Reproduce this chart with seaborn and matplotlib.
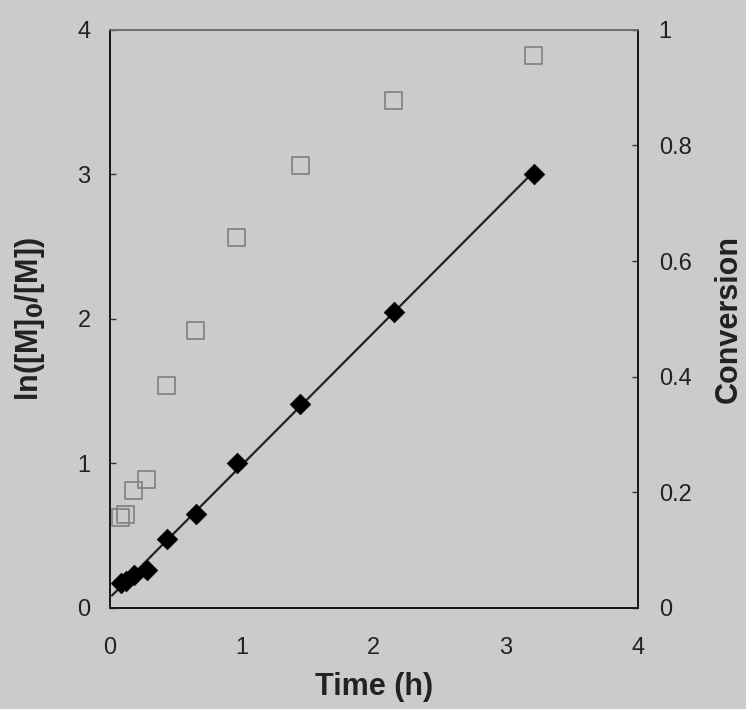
import numpy as np
import pandas as pd
import matplotlib
matplotlib.use("Agg")
import matplotlib.pyplot as plt
import seaborn as sns

# data
time_h = [0.08, 0.12, 0.18, 0.28, 0.43, 0.65, 0.96, 1.44, 2.15, 3.21]
ln_ratio = [0.17, 0.19, 0.23, 0.26, 0.48, 0.65, 1.00, 1.41, 2.05, 3.00]
conversion = [0.157, 0.162, 0.204, 0.223, 0.384, 0.48, 0.641, 0.766, 0.878, 0.956]

x_ticks = [0, 1, 2, 3, 4]
y_ticks = [0, 1, 2, 3, 4]
y2_ticks = [0, 0.2, 0.4, 0.6, 0.8, 1]
y2_labels = ["0", "0.2", "0.4", "0.6", "0.8", "1"]

df = pd.DataFrame({"time": time_h, "ln": ln_ratio, "conv": conversion})

bg = "#c9cbcc"
sns.set_theme(style="white")
plt.rcParams["font.family"] = ["Liberation Sans", "DejaVu Sans"]

fig = plt.figure(figsize=(7.46, 7.09), dpi=100, facecolor=bg)
ax = fig.add_axes([0.1475, 0.1425, 0.7075, 0.8155])
ax.set_facecolor(bg)
ax2 = ax.twinx()

# conversion (open grey squares) on right axis
sns.scatterplot(data=df, x="time", y="conv", ax=ax2, marker="s", s=150,
                facecolor="none", edgecolor="#858585", linewidth=1.3, zorder=3)

# fit line
coef = np.polyfit(df["time"], df["ln"], 1)
xs = np.array([0.015, max(time_h)])
ax.plot(xs, np.polyval(coef, xs), color="#222222", lw=1.6, zorder=2)

# ln([M]0/[M]) filled black diamonds
sns.scatterplot(data=df, x="time", y="ln", ax=ax, marker="D", s=110,
                color="black", edgecolor="black", linewidth=0.5, zorder=4)

ax.set_xlim(0, 4)
ax.set_ylim(0, 4)
ax2.set_ylim(0, 1)
ax.set_xticks(x_ticks)
ax.set_yticks(y_ticks)
ax2.set_yticks(y2_ticks)
ax2.set_yticklabels(y2_labels)

for a in (ax, ax2):
    a.tick_params(direction="in", length=4, width=1, colors="#333333",
                  labelsize=17, labelcolor="#222222")
ax.tick_params(axis="x", pad=21)
ax.tick_params(axis="y", pad=14)
ax2.tick_params(axis="y", pad=15)

ax.set_xlabel("Time (h)", fontsize=22, fontweight="bold", color="#222222", labelpad=9)
ax.set_ylabel(r"ln([M]$_\mathbf{0}$/[M])", fontsize=22, fontweight="bold",
              color="#222222", labelpad=22)
ax2.set_ylabel("Conversion", fontsize=22, fontweight="bold", color="#222222",
               labelpad=16)

for a in (ax, ax2):
    for side in ("left", "bottom", "right"):
        a.spines[side].set_color("#1a1a1a")
        a.spines[side].set_linewidth(1.4)
    a.spines["top"].set_color("#6e6e6e")
    a.spines["top"].set_linewidth(1.2)

fig.savefig("out.png", dpi=100, facecolor=bg)
